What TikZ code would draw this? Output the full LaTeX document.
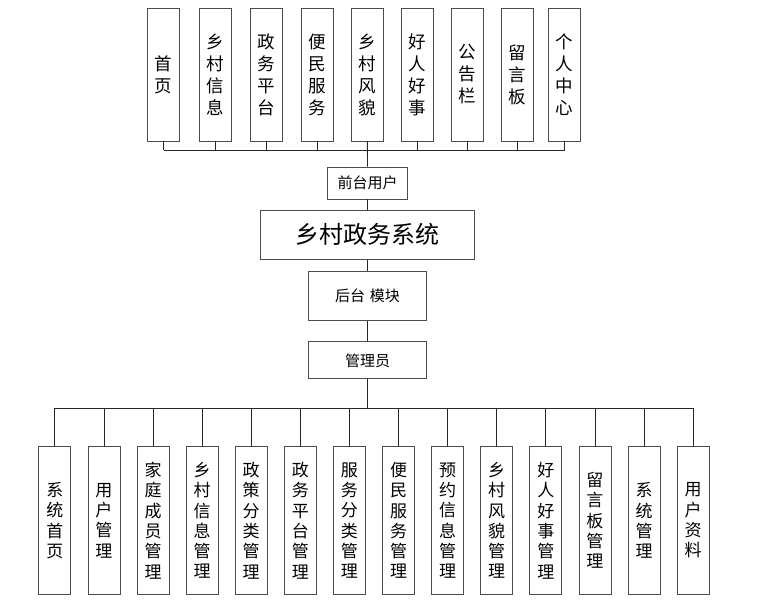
\documentclass[tikz,border=0pt]{standalone}
\usepackage{fontspec}
\setmainfont{Noto Sans CJK SC}
\usepackage{tikz}
\usetikzlibrary{positioning}
\tikzset{every node/.style={font=\fontsize{15}{18}\selectfont}}
\tikzset{
  box/.style={draw=black!70, line width=0.8pt, fill=white, inner sep=0pt, align=center},
  topbox/.style={box, minimum width=32, minimum height=133, font=\fontsize{17.5}{22}\selectfont},
  subbox/.style={box, minimum width=32, minimum height=147.6, font=\fontsize{17}{20.3}\selectfont},
  link/.style={draw=black!85, line width=0.8pt}
}

\begin{document}
\begin{tikzpicture}[x=1pt, y=-1pt]
  \useasboundingbox (0,0) rectangle (779,611);
  % central column
  \node[box, minimum width=80, minimum height=32] (front) at (367.5,183) {前台用户};
  \node[box, minimum width=214, minimum height=49, font=\fontsize{24}{28}\selectfont] (sys) at (367.3,234.8) {乡村政务系统};
  \node[box, minimum width=118, minimum height=49] (back) at (367.5,295.8) {后台\,\,模块};
  \node[box, minimum width=118, minimum height=37] (admin) at (367.5,360.3) {管理员};
  \coordinate (topbus) at (0,150);
  \coordinate (botbus) at (0,408.3);
  % front-end pages
  \foreach \n/\x/\t in {1/163.7/首\\页, 2/215/乡\\村\\信\\息, 3/266.5/政\\务\\平\\台,
      4/317.7/便\\民\\服\\务, 5/367.3/乡\\村\\风\\貌, 6/417.2/好\\人\\好\\事,
      7/467.3/公\\告\\栏, 8/517.3/留\\言\\板, 9/564.7/个\\人\\中\\心}
    \node[topbox] (t\n) at (\x,74.5) {\t};
  % back-end modules
  \foreach \n/\t in {1/系\\统\\首\\页, 2/用\\户\\管\\理, 3/家\\庭\\成\\员\\管\\理,
      4/乡\\村\\信\\息\\管\\理, 5/政\\策\\分\\类\\管\\理, 6/政\\务\\平\\台\\管\\理,
      7/服\\务\\分\\类\\管\\理, 8/便\\民\\服\\务\\管\\理, 9/预\\约\\信\\息\\管\\理,
      10/乡\\村\\风\\貌\\管\\理, 11/好\\人\\好\\事\\管\\理, 12/留\\言\\板\\管\\理,
      13/系\\统\\管\\理, 14/用\\户\\资\\料}
    \node[subbox] (b\n) at ({54.8+49.1*(\n-1)},520.5) {\t};
  % connectors
  \foreach \n in {1,...,9}
    \draw[link] (t\n.south) -- (t\n.south |- topbus);
  \draw[link] (t1.south |- topbus) -- (t9.south |- topbus);
  \draw[link] (t5.south) -- (front.north);
  \draw[link] (front.south) -- (front.south |- sys.north);
  \draw[link] (sys.south) -- (sys.south |- back.north);
  \draw[link] (back.south) -- (admin.north);
  \draw[link] (admin.south) -- (admin.south |- botbus);
  \draw[link] (b1.north |- botbus) -- (b14.north |- botbus);
  \foreach \n in {1,...,14}
    \draw[link] (b\n.north) -- (b\n.north |- botbus);
\end{tikzpicture}
\end{document}
